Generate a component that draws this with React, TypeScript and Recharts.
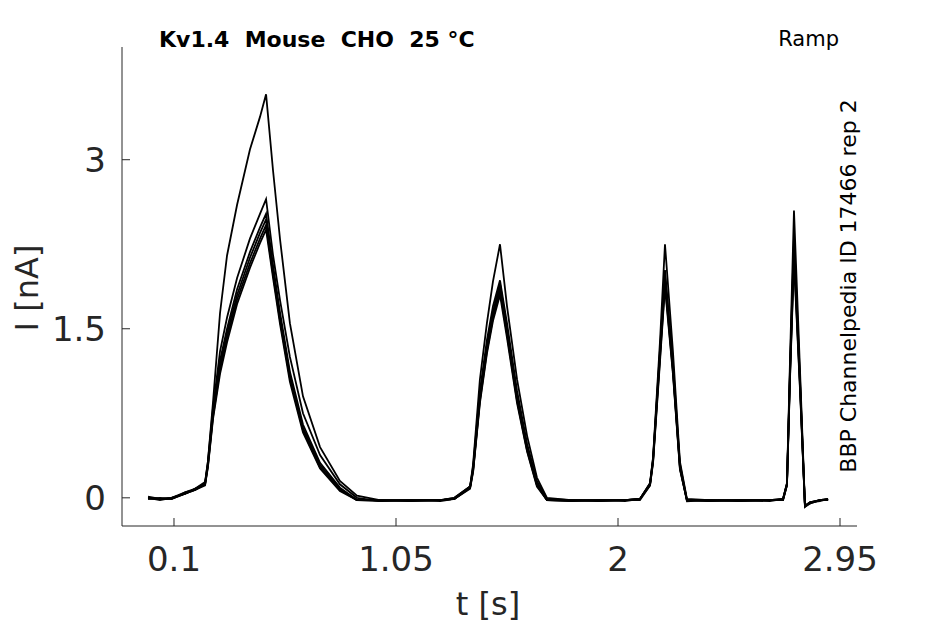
import React from "react";
import { Line, LineChart, XAxis, YAxis } from "recharts";

// time base shared by every sweep (s)
const tSec = [
  -0.011, 0.04, 0.09, 0.15, 0.19, 0.233, 0.245, 0.267, 0.297, 0.327, 0.37,
  0.425, 0.468, 0.494, 0.524, 0.554, 0.596, 0.652, 0.725, 0.81, 0.883, 0.98,
  1.11, 1.24, 1.3, 1.367, 1.38, 1.409, 1.439, 1.465, 1.495, 1.525, 1.568,
  1.611, 1.653, 1.696, 1.8, 1.92, 2.03, 2.094, 2.137, 2.15, 2.18, 2.201,
  2.235, 2.265, 2.295, 2.39, 2.52, 2.65, 2.706, 2.723, 2.736, 2.753, 2.779,
  2.8, 2.822, 2.864, 2.899,
];

// current of each sweep (nA)
const sweepA = [
  0.0, -0.01, 0.0, 0.04, 0.07, 0.13, 0.32, 0.85, 1.64, 2.15, 2.6, 3.09, 3.38,
  3.58, 2.9, 2.29, 1.55, 0.9, 0.45, 0.15, 0.02, -0.02, -0.02, -0.02, 0.0, 0.1,
  0.3, 1.05, 1.55, 1.92, 2.25, 1.7, 1.05, 0.55, 0.18, 0.0, -0.02, -0.02,
  -0.02, -0.01, 0.13, 0.36, 1.4, 2.25, 1.3, 0.32, -0.01, -0.02, -0.02, -0.02,
  -0.01, 0.13, 1.22, 2.55, 1.12, -0.07, -0.04, -0.02, -0.01,
];
const sweepB = [
  0.01, -0.01, -0.01, 0.05, 0.08, 0.14, 0.32, 0.8, 1.3, 1.6, 1.95, 2.3, 2.52,
  2.65, 2.15, 1.75, 1.25, 0.75, 0.38, 0.12, 0.0, -0.03, -0.02, -0.02, 0.0,
  0.1, 0.28, 0.95, 1.4, 1.7, 1.93, 1.55, 0.95, 0.48, 0.15, -0.01, -0.02,
  -0.03, -0.02, -0.01, 0.13, 0.35, 1.33, 2.02, 1.2, 0.3, -0.02, -0.02, -0.03,
  -0.02, -0.01, 0.13, 1.15, 2.32, 1.05, -0.07, -0.04, -0.02, -0.01,
];
const sweepC = [
  -0.01, 0.0, -0.01, 0.04, 0.08, 0.13, 0.3, 0.76, 1.22, 1.5, 1.85, 2.18, 2.4,
  2.52, 2.06, 1.64, 1.12, 0.65, 0.31, 0.09, -0.02, -0.02, -0.03, -0.02,
  -0.01, 0.1, 0.26, 0.9, 1.35, 1.65, 1.9, 1.5, 0.9, 0.45, 0.13, -0.02, -0.03,
  -0.02, -0.02, -0.01, 0.12, 0.34, 1.3, 1.97, 1.16, 0.28, -0.02, -0.03,
  -0.02, -0.02, -0.02, 0.12, 1.12, 2.26, 1.02, -0.08, -0.05, -0.02, -0.02,
];
const sweepD = [
  0.0, -0.02, 0.0, 0.05, 0.07, 0.12, 0.29, 0.74, 1.18, 1.46, 1.8, 2.13, 2.35,
  2.47, 2.02, 1.6, 1.09, 0.62, 0.29, 0.08, -0.02, -0.03, -0.02, -0.02, -0.01,
  0.09, 0.25, 0.88, 1.33, 1.63, 1.87, 1.48, 0.88, 0.44, 0.12, -0.02, -0.02,
  -0.02, -0.03, -0.01, 0.12, 0.33, 1.28, 1.94, 1.14, 0.27, -0.03, -0.02,
  -0.02, -0.03, -0.01, 0.12, 1.1, 2.2, 1.0, -0.07, -0.04, -0.02, -0.02,
];
const sweepE = [
  -0.01, -0.01, -0.01, 0.04, 0.08, 0.12, 0.28, 0.72, 1.14, 1.42, 1.76, 2.08,
  2.3, 2.42, 1.98, 1.57, 1.06, 0.6, 0.27, 0.07, -0.02, -0.02, -0.02, -0.03,
  -0.01, 0.09, 0.24, 0.86, 1.3, 1.6, 1.84, 1.45, 0.86, 0.42, 0.11, -0.02,
  -0.02, -0.03, -0.02, -0.02, 0.11, 0.32, 1.25, 1.9, 1.12, 0.26, -0.02,
  -0.02, -0.03, -0.02, -0.02, 0.11, 1.07, 2.15, 0.97, -0.08, -0.04, -0.03,
  -0.01,
];
const sweepF = [
  0.0, -0.01, 0.0, 0.04, 0.07, 0.11, 0.27, 0.7, 1.1, 1.38, 1.72, 2.04, 2.26,
  2.38, 1.95, 1.54, 1.03, 0.58, 0.26, 0.06, -0.02, -0.02, -0.03, -0.02,
  -0.01, 0.08, 0.23, 0.84, 1.28, 1.57, 1.8, 1.42, 0.84, 0.41, 0.1, -0.02,
  -0.03, -0.02, -0.02, -0.01, 0.11, 0.31, 1.22, 1.87, 1.1, 0.25, -0.02,
  -0.03, -0.02, -0.02, -0.02, 0.11, 1.05, 2.1, 0.95, -0.07, -0.05, -0.02,
  -0.02,
];

const sweeps = { a: sweepA, b: sweepB, c: sweepC, d: sweepD, e: sweepE, f: sweepF };

const xTicks = [0.1, 1.05, 2, 2.95];
const yTicks = [0, 1.5, 3];

const rows = tSec.map((t, i) => {
  const row: Record<string, number> = { t };
  for (const [key, values] of Object.entries(sweeps)) row[key] = values[i];
  return row;
});

const FONT = "DejaVu Sans";
const AXIS = "#262626";

function XTick({ x = 0, y = 0, payload }: any) {
  return (
    <g>
      <line x1={x} y1={y} x2={x} y2={y - 8} stroke={AXIS} strokeWidth={1} />
      <text x={x} y={y + 45} textAnchor="middle" fontSize={34} fontFamily={FONT} fill={AXIS}>
        {String(payload?.value)}
      </text>
    </g>
  );
}

function YTick({ x = 0, y = 0, payload }: any) {
  return (
    <g>
      <line x1={x} y1={y} x2={x + 8} y2={y} stroke={AXIS} strokeWidth={1} />
      <text x={x - 16} y={y} dy="0.36em" textAnchor="end" fontSize={34} fontFamily={FONT} fill={AXIS}>
        {String(payload?.value)}
      </text>
    </g>
  );
}

export default function App() {
  return (
    <div style={{ position: "absolute", left: 0, top: 0, width: 945, height: 624, background: "#fff" }}>
      <LineChart width={945} height={624} data={rows} margin={{ top: 47, right: 88, bottom: 0, left: 0 }}>
        <XAxis
          type="number"
          dataKey="t"
          domain={[-0.1225, 3.0227]}
          ticks={xTicks}
          allowDataOverflow
          height={98}
          tickLine={false}
          tickSize={0}
          tickMargin={0}
          tick={<XTick />}
          axisLine={{ stroke: AXIS, strokeWidth: 1 }}
        />
        <YAxis
          type="number"
          domain={[-0.25, 4]}
          ticks={yTicks}
          allowDataOverflow
          width={122}
          tickLine={false}
          tickSize={0}
          tickMargin={0}
          tick={<YTick />}
          axisLine={{ stroke: AXIS, strokeWidth: 1 }}
        />
        {Object.keys(sweeps).map((key) => (
          <Line
            key={key}
            dataKey={key}
            type="linear"
            stroke="#000"
            strokeWidth={1.8}
            dot={false}
            isAnimationActive={false}
          />
        ))}
        <text x={159} y={47} fontSize={22} fontWeight="bold" fontFamily={FONT} fill="#000">
          Kv1.4{"\u00a0\u00a0"}Mouse{"\u00a0\u00a0"}CHO{"\u00a0\u00a0"}25 °C
        </text>
        <text x={839} y={46} textAnchor="end" fontSize={21} fontFamily={FONT} fill="#000">
          Ramp
        </text>
        <text
          x={856}
          y={286}
          textAnchor="middle"
          transform="rotate(-90, 856, 286)"
          fontSize={22}
          fontFamily={FONT}
          fill="#000"
        >
          BBP Channelpedia ID 17466 rep 2
        </text>
        <text x={488} y={615} textAnchor="middle" fontSize={32} fontFamily={FONT} fill={AXIS}>
          t [s]
        </text>
        <text
          x={38}
          y={288}
          textAnchor="middle"
          transform="rotate(-90, 38, 288)"
          fontSize={32}
          fontFamily={FONT}
          fill={AXIS}
        >
          I [nA]
        </text>
      </LineChart>
    </div>
  );
}
